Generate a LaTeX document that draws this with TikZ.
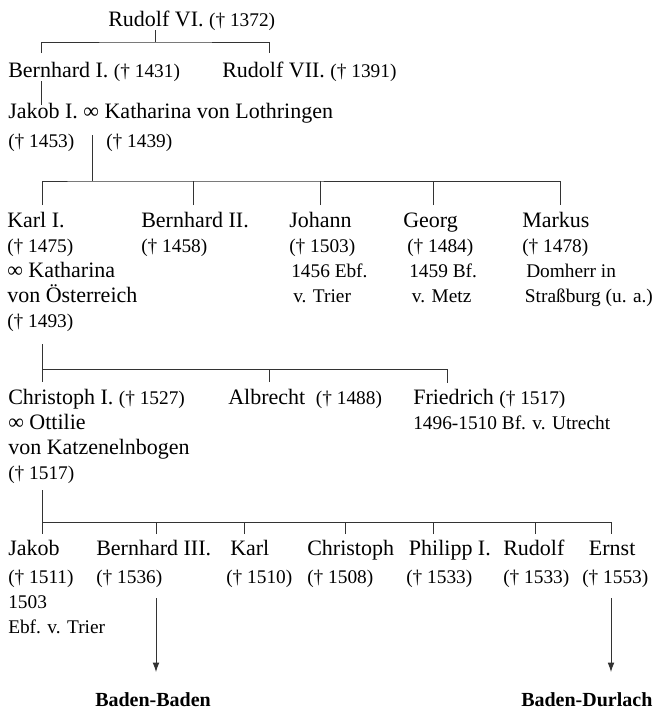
\documentclass[tikz,border=0pt]{standalone}
\usepackage{fontspec}
\setmainfont{Liberation Serif}
\usetikzlibrary{arrows.meta}
\newcommand\td[1]{{\fontsize{14.5}{18.75}\selectfont #1}}

\begin{document}
\begin{tikzpicture}[x=0.75pt,y=-0.75pt,
  every node/.style={anchor=base west,inner sep=0pt,align=left,font=\fontsize{16.5}{18.75}\selectfont},
  line/.style={draw=black!80,line width=0.6pt},
  branch/.style={line,-{Latex[length=7pt,width=5pt]}},
  house/.style={font=\fontsize{15}{18.75}\selectfont\bfseries}
]
\useasboundingbox (0,0) rectangle (654,711);

% Rudolf VI. and sons (multi-line nodes sit on their last line)
\node (rudolfsix) at (108,26) {Rudolf VI. \td{(† 1372)}};
\node (bernhardone) at (8,77) {Bernhard I. \td{(† 1431)}};
\node (rudolfseven) at (222,77) {Rudolf VII. \td{(† 1391)}};
\node (jakobone) at (8,118) {Jakob I. ∞ Katharina von Lothringen};
\node (jakobd) at (8,147) {\td{(† 1453)}};
\node (katharinad) at (106,147) {\td{(† 1439)}};

% children of Jakob I.
\node (karlone) at (7,327) {Karl I.\\\td{(† 1475)}\\∞ Katharina\\von Österreich\\\td{(† 1493)}};
\node (bernhardtwo) at (141,252) {Bernhard II.\\\td{(† 1458)}};
\node (johann) at (289,302) {Johann\\\td{(† 1503)}\\\td{\hspace{1.5pt}1456 Ebf.}\\\td{\hspace{3pt}v. Trier}};
\node (georg) at (403,302) {Georg\\\td{\hspace{3pt}(† 1484)}\\\td{\hspace{4.5pt}1459 Bf.}\\\td{\hspace{6.5pt}v. Metz}};
\node (markus) at (522,302) {Markus\\\td{(† 1478)}\\\td{\hspace{3pt}Domherr in}\\\td{\hspace{2pt}Straßburg (u. a.)}};

% children of Karl I.
\node (christophone) at (8,479) {Christoph I. \td{(† 1527)}\\∞ Ottilie\\von Katzenelnbogen\\\td{(† 1517)}};
\node (albrecht) at (228,404) {Albrecht\hspace{8pt}\td{(† 1488)}};
\node (friedrich) at (413,429) {Friedrich \td{(† 1517)}\\\td{1496-1510 Bf. v. Utrecht}};

% children of Christoph I.
\node (jakob) at (8,633) {Jakob\\[2.25pt]\td{(† 1511)}\\\td{1503}\\\td{Ebf. v. Trier}};
\node (bernhardthree) at (96,583) {Bernhard III.\\[2.25pt]\td{(† 1536)}};
\node (karl) at (226,583) {\hspace{3pt}Karl\\[2.25pt]\td{(† 1510)}};
\node (christoph) at (307,583) {Christoph\\[2.25pt]\td{(† 1508)}};
\node (philippone) at (406,583) {\hspace{2pt}Philipp I.\\[2.25pt]\td{(† 1533)}};
\node (rudolf) at (503,583) {Rudolf\\[2.25pt]\td{(† 1533)}};
\node (ernst) at (582,583) {\hspace{5pt}Ernst\\[2.25pt]\td{(† 1553)}};

\node[house] (badenbaden) at (95,706) {Baden-Baden};
\node[house] (badendurlach) at (521,706) {Baden-Durlach};

% joints
\coordinate (a0) at (155.7,30); \coordinate (ha) at (155.7,42);
\coordinate (a1) at (41.7,53); \coordinate (a2) at (269,53);
\coordinate (b0) at (41.7,81); \coordinate (b1) at (41.7,105);
\coordinate (c0) at (92,135); \coordinate (hc) at (92,181);
\coordinate (c1) at (42,205); \coordinate (c2) at (193,205); \coordinate (c3) at (320,205);
\coordinate (c4) at (433,205); \coordinate (c5) at (560,205);
\coordinate (d0) at (42,344); \coordinate (hd) at (42,369);
\coordinate (d1) at (42,382); \coordinate (d2) at (269,382); \coordinate (d3) at (447,383);
\coordinate (e0) at (42,490); \coordinate (he) at (42,522);
\coordinate (e1) at (42,534); \coordinate (e2) at (156,534); \coordinate (e3) at (244,534);
\coordinate (e4) at (345,534); \coordinate (e5) at (433,534); \coordinate (e6) at (535,534);
\coordinate (e7) at (611,534);
\coordinate (g1) at (156,598); \coordinate (g2) at (156,672);
\coordinate (k1) at (611,598); \coordinate (k2) at (611,672);

\draw[line] (a0) -- (ha);
\draw[line] (a1) |- (ha) -| (a2);
\draw[line] (b0) -- (b1);
\draw[line] (c0) -- (hc);
\draw[line] (c1) |- (hc) -| (c5);
\foreach \c in {c2,c3,c4} \draw[line] (\c) -- (\c |- hc);
\draw[line] (d0) -- (d1);
\draw[line] (hd) -| (d3);
\draw[line] (d2) -- (d2 |- hd);
\draw[line] (e0) -- (e1);
\draw[line] (he) -| (e7);
\foreach \c in {e2,e3,e4,e5,e6} \draw[line] (\c) -- (\c |- he);
\draw[branch] (g1) -- (g2);
\draw[branch] (k1) -- (k2);
\end{tikzpicture}
\end{document}
